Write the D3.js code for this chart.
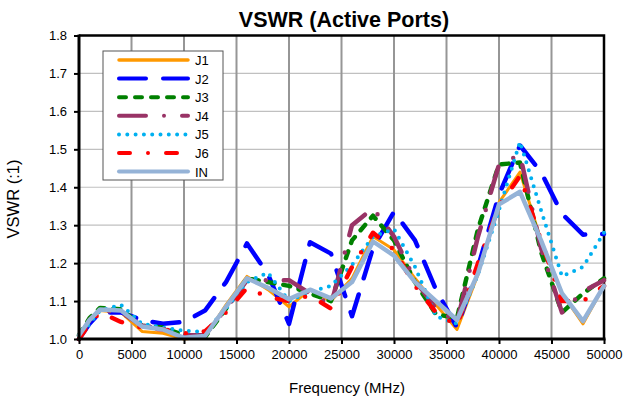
<!DOCTYPE html>
<html>
<head>
<meta charset="utf-8">
<script src="https://cdn.jsdelivr.net/npm/d3@7/dist/d3.min.js"></script>
<style>
  body { margin: 0; background: #fff; }
  text { font-family: Arial, "Liberation Sans", sans-serif; fill: #000; }
</style>
</head>
<body>
<div id="chart"></div>
<script>
// frequency points (MHz)
const freq = [0, 1000, 2000, 4000, 6000, 8000, 10000, 12000, 14000, 16000, 18000, 20000, 22000, 24000,
  26000, 28000, 30000, 32000, 34000, 36000, 38000, 40000, 42000, 44000, 46000, 48000, 50000];

// VSWR
const j1 = [1.0, 1.05, 1.075, 1.07, 1.02, 1.015, 1.0, 1.005, 1.09, 1.165, 1.13, 1.085, 1.13, 1.10,
  1.16, 1.27, 1.235, 1.16, 1.09, 1.025, 1.17, 1.36, 1.44, 1.26, 1.12, 1.04, 1.14];
const j2 = [1.0, 1.04, 1.07, 1.07, 1.05, 1.04, 1.045, 1.075, 1.15, 1.252, 1.17, 1.04, 1.255, 1.225,
  1.06, 1.24, 1.335, 1.26, 1.13, 1.03, 1.19, 1.38, 1.51, 1.44, 1.33, 1.275, 1.277];
const j3 = [1.01, 1.055, 1.082, 1.078, 1.035, 1.03, 1.01, 1.005, 1.08, 1.16, 1.15, 1.14, 1.12, 1.10,
  1.26, 1.325, 1.26, 1.15, 1.065, 1.055, 1.29, 1.46, 1.465, 1.23, 1.07, 1.12, 1.16];
const j4 = [1.0, 1.05, 1.075, 1.07, 1.035, 1.028, 1.01, 1.01, 1.08, 1.155, 1.155, 1.155, 1.12, 1.09,
  1.30, 1.345, 1.27, 1.155, 1.08, 1.045, 1.27, 1.46, 1.485, 1.24, 1.07, 1.125, 1.155];
const j5 = [1.0, 1.04, 1.075, 1.09, 1.04, 1.03, 1.022, 1.018, 1.08, 1.15, 1.175, 1.10, 1.125, 1.14,
  1.195, 1.27, 1.29, 1.19, 1.06, 1.04, 1.17, 1.34, 1.52, 1.34, 1.165, 1.19, 1.28];
const j6 = [1.0, 1.04, 1.07, 1.045, 1.03, 1.025, 1.015, 1.02, 1.07, 1.135, 1.11, 1.10, 1.115, 1.08,
  1.19, 1.28, 1.235, 1.14, 1.07, 1.035, 1.20, 1.35, 1.43, 1.26, 1.10, 1.10, 1.14];
const inp = [1.01, 1.05, 1.078, 1.075, 1.033, 1.025, 1.003, 1.008, 1.085, 1.16, 1.135, 1.105, 1.13, 1.107,
  1.15, 1.257, 1.22, 1.15, 1.10, 1.05, 1.173, 1.355, 1.388, 1.26, 1.12, 1.047, 1.14];

const seriesNames = ["J1", "J2", "J3", "J4", "J5", "J6", "IN"];
const seriesValues = [j1, j2, j3, j4, j5, j6, inp];
const xTicks = [0, 5000, 10000, 15000, 20000, 25000, 30000, 35000, 40000, 45000, 50000];
const yTicks = [1.0, 1.1, 1.2, 1.3, 1.4, 1.5, 1.6, 1.7, 1.8];

// line styles
const styles = {
  J1: { color: "#FF9900", width: 3, dash: null },
  J2: { color: "#0000FF", width: 4.5, dash: "27,17" },
  J3: { color: "#008000", width: 4.5, dash: "7,9" },
  J4: { color: "#993366", width: 4.5, dash: "27,18,0,18" },
  J5: { color: "#00B0F0", width: 4, dash: "0,8.3" },
  J6: { color: "#FF0000", width: 4.5, dash: "11,18,0,18" },
  IN: { color: "#95B3D7", width: 4.5, dash: null }
};

const width = 623, height = 400;
const plot = { left: 79, right: 604, top: 35.5, bottom: 339 };

const svg = d3.select("#chart").append("svg")
  .attr("width", width)
  .attr("height", height);

svg.append("rect").attr("width", width).attr("height", height).attr("fill", "#fff");

const x = d3.scaleLinear().domain([0, 50000]).range([plot.left, plot.right]);
const y = d3.scaleLinear().domain([1.0, 1.8]).range([plot.bottom, plot.top]);

// gridlines
svg.append("g").selectAll("line")
  .data(yTicks.slice(1))
  .enter().append("line")
  .attr("x1", plot.left).attr("x2", plot.right)
  .attr("y1", d => y(d)).attr("y2", d => y(d))
  .style("stroke", "#c0c0c0").style("stroke-width", 1.2);

svg.append("g").selectAll("line")
  .data(xTicks.slice(1, -1))
  .enter().append("line")
  .attr("x1", d => x(d)).attr("x2", d => x(d))
  .attr("y1", plot.top).attr("y2", plot.bottom)
  .style("stroke", "#969696").style("stroke-width", 2);

// plot border (top / right)
svg.append("path")
  .attr("d", `M${plot.left},${plot.top}H${plot.right}V${plot.bottom}`)
  .style("fill", "none").style("stroke", "#000").style("stroke-width", 2.5);

// series
const line = d3.line()
  .x((d, i) => x(freq[i]))
  .y(d => y(d));

const gLines = svg.append("g");
seriesNames.forEach((name, k) => {
  const s = styles[name];
  gLines.append("path")
    .datum(seriesValues[k])
    .attr("d", line)
    .style("fill", "none")
    .style("stroke", s.color)
    .style("stroke-width", s.width)
    .style("stroke-linecap", "round")
    .style("stroke-linejoin", "round")
    .style("stroke-dasharray", s.dash);
});

// axes
const xAxis = d3.axisBottom(x).tickValues(xTicks).tickSize(5).tickPadding(6).tickFormat(d3.format("d"));
const yAxis = d3.axisLeft(y).tickValues(yTicks).tickSize(5).tickPadding(7).tickFormat(d3.format(".1f"));

const gx = svg.append("g").attr("transform", `translate(0,${plot.bottom})`).call(xAxis);
const gy = svg.append("g").attr("transform", `translate(${plot.left},0)`).call(yAxis);

[gx, gy].forEach(g => {
  g.select(".domain").style("stroke", "#000").style("stroke-width", 3);
  g.selectAll(".tick line").style("stroke", "#000").style("stroke-width", 2);
  g.selectAll(".tick text")
    .style("font-size", "13px")
    .style("font-family", "Arial, 'Liberation Sans', sans-serif")
    .attr("fill", "#000");
});
gy.select(".domain").attr("d", `M0,${plot.bottom + 1.5}V${plot.top - 1}`);
gx.select(".domain").attr("d", `M${plot.left - 1.5},0H${plot.right + 1.5}`);

// titles
svg.append("text")
  .attr("x", 344).attr("y", 27)
  .attr("text-anchor", "middle")
  .style("font-size", "21.5px").style("font-weight", "bold")
  .text("VSWR (Active Ports)");

svg.append("text")
  .attr("x", 347).attr("y", 393)
  .attr("text-anchor", "middle")
  .style("font-size", "15px")
  .text("Frequency (MHz)");

svg.append("text")
  .attr("transform", "translate(18.5,199) rotate(-90)")
  .attr("text-anchor", "middle")
  .style("font-size", "16.5px")
  .text("VSWR (:1)");

// legend
const legend = svg.append("g").attr("transform", "translate(103,51)");
legend.append("rect")
  .attr("width", 120).attr("height", 129)
  .style("fill", "#fff").style("stroke", "#555").style("stroke-width", 1);

seriesNames.forEach((name, k) => {
  const s = styles[name];
  const yy = 9 + k * 18.6;
  legend.append("line")
    .attr("x1", 16).attr("x2", 85)
    .attr("y1", yy).attr("y2", yy)
    .style("stroke", s.color)
    .style("stroke-width", name === "J1" ? 3.5 : 4)
    .style("stroke-linecap", "round")
    .style("stroke-dasharray", s.dash);
  legend.append("text")
    .attr("x", 92).attr("y", yy + 5)
    .style("font-size", "13px")
    .text(name);
});
</script>
</body>
</html>
